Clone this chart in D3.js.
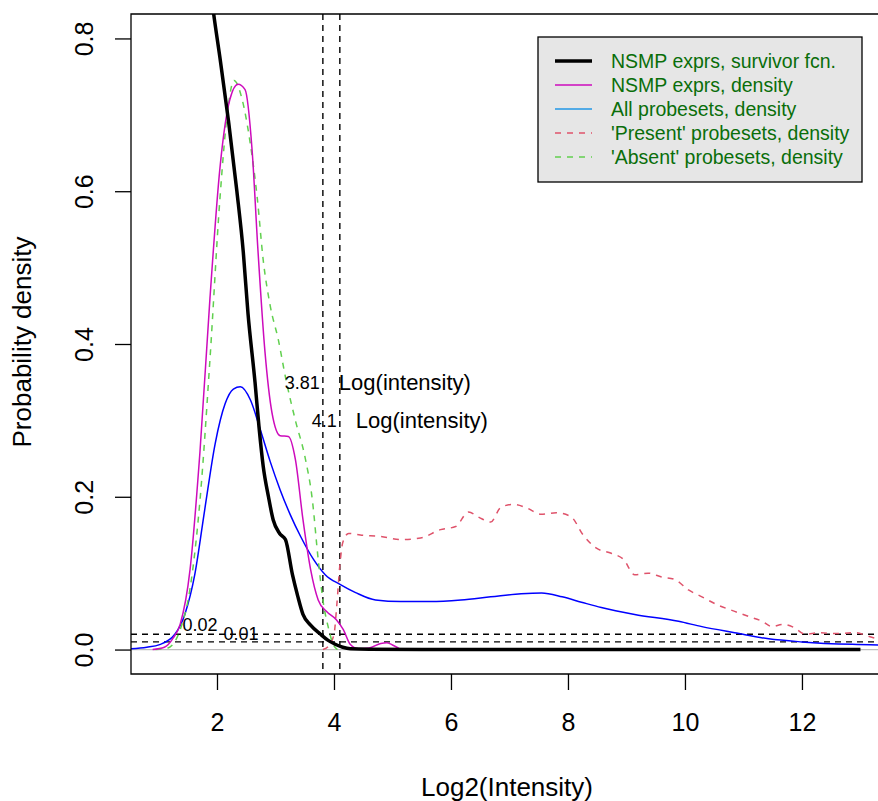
<!DOCTYPE html>
<html><head><meta charset="utf-8">
<script src="https://cdn.jsdelivr.net/npm/d3@7"></script>
<style>body{margin:0;background:#fff}svg{display:block}text{font-family:"Liberation Sans",Arial,Helvetica,sans-serif}</style>
</head><body>
<svg id="c" width="878" height="801"></svg>
<script>
// ---- data ----
const survX = [1.60,1.80,1.93,2.05,2.20,2.34,2.45,2.53,2.65,2.72,2.79,2.88,2.96,3.07,3.17,3.29,3.38,3.47,3.60,3.77,3.90,4.02,4.15,4.28,4.60,5.50,13.0];
const survY = [1.00,0.93,0.84,0.775,0.69,0.60,0.52,0.44,0.35,0.29,0.24,0.20,0.17,0.152,0.144,0.098,0.07,0.046,0.032,0.02,0.012,0.007,0.003,0.001,0.0003,0,0];

const nsmpX = [0.90,1.10,1.25,1.37,1.54,1.71,1.88,2.05,2.22,2.36,2.48,2.60,2.70,2.82,2.94,3.08,3.22,3.34,3.47,3.60,3.73,3.87,4.04,4.16,4.28,4.42,4.60,4.80,4.90,5.00,5.14];
const nsmpY = [0,0.003,0.015,0.033,0.105,0.26,0.46,0.63,0.72,0.74,0.733,0.654,0.523,0.39,0.31,0.28,0.279,0.249,0.17,0.105,0.065,0.05,0.039,0.026,0.0065,0.001,0.002,0.008,0.009,0.006,0];

const allX = [0.51,0.80,1.02,1.28,1.45,1.62,1.79,1.97,2.14,2.28,2.40,2.57,2.74,2.91,3.08,3.25,3.43,3.65,3.85,4.11,4.37,4.71,5.14,5.65,6.17,6.68,7.20,7.55,7.90,8.23,8.57,9.14,9.89,10.29,10.85,11.43,12.00,12.86,13.40];
const allY = [0.001,0.003,0.0065,0.02,0.046,0.098,0.183,0.27,0.322,0.341,0.344,0.327,0.288,0.246,0.209,0.177,0.148,0.118,0.098,0.085,0.0746,0.065,0.063,0.063,0.065,0.069,0.073,0.074,0.069,0.062,0.055,0.046,0.037,0.03,0.022,0.014,0.01,0.0068,0.006];

const presX = [3.81,3.90,4.00,4.05,4.10,4.15,4.25,4.45,4.80,5.14,5.48,5.82,6.08,6.30,6.48,6.68,6.85,7.06,7.28,7.54,7.80,8.05,8.26,8.48,8.74,8.95,9.14,9.37,9.60,9.82,10.06,10.29,10.57,10.85,11.10,11.32,11.49,11.67,11.86,12.06,12.29,12.57,12.91,13.15,13.40];
const presY = [0,0.004,0.02,0.06,0.11,0.14,0.152,0.15,0.148,0.144,0.146,0.157,0.161,0.18,0.173,0.167,0.186,0.19,0.186,0.177,0.179,0.174,0.15,0.133,0.126,0.118,0.098,0.10,0.095,0.092,0.078,0.069,0.058,0.05,0.043,0.037,0.03,0.033,0.029,0.02,0.022,0.021,0.022,0.017,0.012];

const absX = [0.95,1.16,1.37,1.54,1.71,1.88,2.05,2.19,2.29,2.43,2.56,2.69,2.79,2.91,3.05,3.18,3.34,3.51,3.63,3.73,3.82,3.90,3.98,4.06];
const absY = [0,0.002,0.026,0.08,0.196,0.38,0.59,0.71,0.745,0.72,0.667,0.59,0.51,0.45,0.405,0.353,0.30,0.25,0.196,0.118,0.06,0.03,0.008,0];

const xTicks = [2,4,6,8,10,12];
const yTicks = [0,0.2,0.4,0.6,0.8];
const hLines = [0.02,0.01];
const vLines = [3.81,4.1];
const legendLabels = ["NSMP exprs, survivor fcn.","NSMP exprs, density","All probesets, density","'Present' probesets, density","'Absent' probesets, density"];
const legendColors = ["#000000","#CD0BBC","#2297E6","#DF536B","#61D04F"];

// ---- layout ----
const svg = d3.select("#c");
const L = 131, T = 14, B = 674, R = 878;
const x = d3.scaleLinear().domain([0.53, 13.30]).range([L, R]);
const y = d3.scaleLinear().domain([-0.032, 0.832]).range([B, T]);

svg.append("clipPath").attr("id","clip").append("rect")
  .attr("x",L).attr("y",T).attr("width",R-L+20).attr("height",B-T);

const g = svg.append("g").attr("clip-path","url(#clip)");
const mk = (xs, ys) => xs.map((v,i)=>[v, ys[i]]);
const line = d3.line().x(d=>x(d[0])).y(d=>y(d[1])).curve(d3.curveMonotoneX);

// gray zero line
g.append("line").attr("x1",L).attr("x2",R+10).attr("y1",y(0)).attr("y2",y(0))
  .attr("stroke","#BEBEBE").attr("stroke-width",1.3);

// reference dashed lines
hLines.forEach(h=>g.append("line").attr("x1",L).attr("x2",R+10).attr("y1",y(h)).attr("y2",y(h))
  .attr("stroke","#000").attr("stroke-width",1.4).attr("stroke-dasharray","6,5"));
vLines.forEach(v=>g.append("line").attr("x1",x(v)).attr("x2",x(v)).attr("y1",T).attr("y2",B)
  .attr("stroke","#000").attr("stroke-width",1.4).attr("stroke-dasharray","6,5"));

// curves
g.append("path").attr("d",line(mk(allX,allY))).attr("fill","none").attr("stroke","#0000FF").attr("stroke-width",1.5);
g.append("path").attr("d",line(mk(presX,presY))).attr("fill","none").attr("stroke","#DF536B").attr("stroke-width",1.5).attr("stroke-dasharray","6,6");
g.append("path").attr("d",line(mk(absX,absY))).attr("fill","none").attr("stroke","#61D04F").attr("stroke-width",1.5).attr("stroke-dasharray","6,6");
g.append("path").attr("d",line(mk(nsmpX,nsmpY))).attr("fill","none").attr("stroke","#CD0BBC").attr("stroke-width",1.5);
g.append("path").attr("d",line(mk(survX,survY))).attr("fill","none").attr("stroke","#000").attr("stroke-width",3.5).attr("stroke-linejoin","round");

// annotations
svg.append("text").attr("x",200).attr("y",y(0.02)-3).attr("text-anchor","middle").attr("font-size",18).text("0.02");
svg.append("text").attr("x",241).attr("y",y(0.01)-2).attr("text-anchor","middle").attr("font-size",18).text("0.01");
svg.append("text").attr("x",x(3.81)-3).attr("y",y(0.35)+7).attr("text-anchor","end").attr("font-size",18).text("3.81");
svg.append("text").attr("x",x(3.81)+16).attr("y",y(0.35)+8).attr("text-anchor","start").attr("font-size",22).text("Log(intensity)");
svg.append("text").attr("x",x(4.1)-3).attr("y",y(0.30)+7).attr("text-anchor","end").attr("font-size",18).text("4.1");
svg.append("text").attr("x",x(4.1)+16).attr("y",y(0.30)+8).attr("text-anchor","start").attr("font-size",22).text("Log(intensity)");

// frame
svg.append("path").attr("d",`M${R+20},${T}H${L}V${B}H${R+20}`).attr("fill","none").attr("stroke","#000").attr("stroke-width",1.3);

// axes
const xa = svg.append("g").attr("transform",`translate(0,${B})`)
  .call(d3.axisBottom(x).tickValues(xTicks).tickSize(16).tickFormat(d3.format("d")));
xa.select(".domain").remove();
xa.selectAll("line").attr("stroke-width",1.3);
xa.selectAll(".tick text").attr("font-size",25).attr("font-family","Liberation Sans, Arial, sans-serif")
  .attr("y",57).attr("dy",0);

const ya = svg.append("g").attr("transform",`translate(${L},0)`)
  .call(d3.axisLeft(y).tickValues(yTicks).tickSize(16).tickFormat(d3.format(".1f")));
ya.select(".domain").remove();
ya.selectAll("line").attr("stroke-width",1.3);
ya.selectAll(".tick text").attr("font-size",25).attr("font-family","Liberation Sans, Arial, sans-serif")
  .attr("text-anchor","middle").attr("x",0).attr("y",0).attr("dy",0)
  .attr("transform",`translate(${93-L},0) rotate(-90)`);

// axis titles
svg.append("text").attr("x",507).attr("y",796).attr("text-anchor","middle").attr("font-size",26).text("Log2(Intensity)");
svg.append("text").attr("transform","translate(31,342) rotate(-90)").attr("text-anchor","middle").attr("font-size",26).text("Probability density");

// legend
const lg = svg.append("g");
lg.append("rect").attr("x",538).attr("y",37).attr("width",324).attr("height",145)
  .attr("fill","#E6E6E6").attr("stroke","#000").attr("stroke-width",1.3);
legendLabels.forEach((t,i)=>{
  const yy = 61 + i*24;
  lg.append("line").attr("x1",555).attr("x2",592).attr("y1",yy).attr("y2",yy)
    .attr("stroke",legendColors[i]).attr("stroke-width", i===0?3.5:1.5)
    .attr("stroke-dasharray", i>=3 ? "6,6" : null);
  lg.append("text").attr("x",611).attr("y",yy+7).attr("font-size",19.5).attr("fill","#0A6E0A").text(t);
});
</script>
</body></html>
